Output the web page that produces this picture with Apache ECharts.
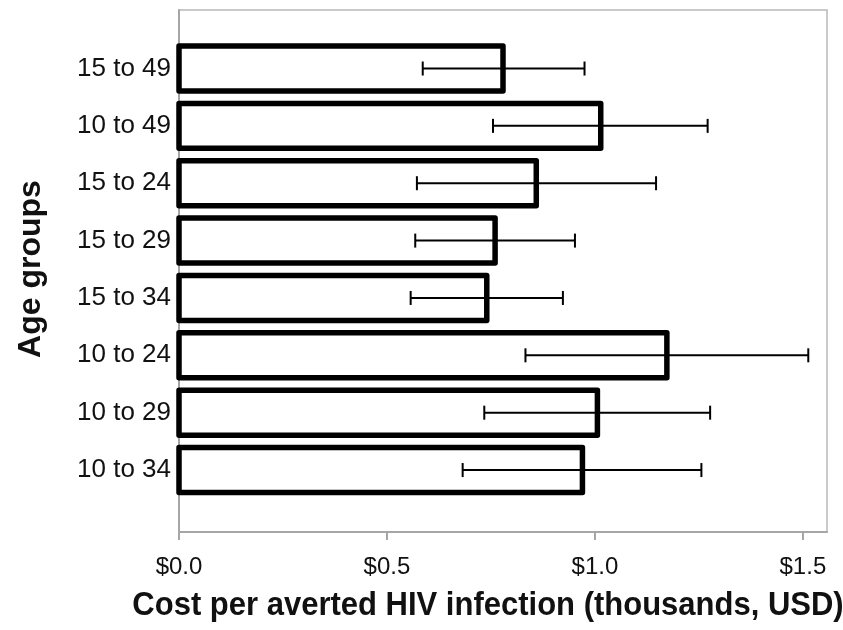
<!DOCTYPE html>
<html>
<head>
<meta charset="utf-8">
<script src="https://cdn.jsdelivr.net/npm/echarts@6/dist/echarts.min.js"></script>
<style>
html,body{margin:0;padding:0;background:#fff;}
#chart{width:843px;height:630px;}
</style>
</head>
<body>
<div id="chart"></div>
<script>
// ---- data ----
const categories = ['15 to 49','10 to 49','15 to 24','15 to 29','15 to 34','10 to 24','10 to 29','10 to 34'];
const costs   = [0.779, 1.014, 0.859, 0.760, 0.740, 1.173, 1.006, 0.970];
const lowerCI = [0.586, 0.755, 0.572, 0.568, 0.557, 0.833, 0.734, 0.682];
const upperCI = [0.975, 1.271, 1.147, 0.952, 0.923, 1.513, 1.277, 1.256];
const xTicks  = [0, 0.5, 1.0, 1.5];
const xTitle  = 'Cost per averted HIV infection (thousands, USD)';
const yTitle  = 'Age groups';

// ---- build series data ----
const positions = categories.map((c, i) => i + 1);
const barData = categories.map((c, i) => [costs[i], positions[i]]);
const errData = categories.map((c, i) => [lowerCI[i], upperCI[i], positions[i]]);

const FONT = 'Liberation Sans, Arial, sans-serif';
const GRAY = '#a6a6a6';

const chart = echarts.init(document.getElementById('chart'), null, {renderer: 'canvas'});
chart.setOption({
  animation: false,
  backgroundColor: '#fff',
  grid: {
    left: 179, right: 16, top: 10, bottom: 98,
    show: true, borderColor: '#b8b8b8', borderWidth: 1.5, backgroundColor: 'transparent'
  },
  xAxis: {
    type: 'value', min: 0, max: 1.558,
    axisLine: {show: true, onZero: false, lineStyle: {color: GRAY, width: 2}},
    axisTick: {show: true, length: 8, customValues: xTicks, lineStyle: {color: GRAY, width: 2}},
    axisLabel: {
      customValues: xTicks, margin: 23, fontSize: 24, color: '#111', fontFamily: FONT,
      formatter: v => '$' + Number(v).toFixed(1)
    },
    splitLine: {show: false}
  },
  yAxis: {
    type: 'value', inverse: true, min: -0.02, max: 9.08,
    axisLine: {show: true, onZero: false, lineStyle: {color: GRAY, width: 2}},
    axisTick: {show: false},
    axisLabel: {
      customValues: positions, margin: 8, fontSize: 26, color: '#111', fontFamily: FONT,
      formatter: v => categories[Math.round(v) - 1] || ''
    },
    splitLine: {show: false}
  },
  graphic: [
    {type: 'text', x: 488, y: 606, scaleY: 1.06,
     style: {text: xTitle, fontSize: 31, fontWeight: 'bold', fill: '#111', fontFamily: FONT,
             align: 'center', verticalAlign: 'middle'}},
    {type: 'text', x: 31, y: 269, rotation: Math.PI / 2,
     style: {text: yTitle, fontSize: 32, fontWeight: 'bold', fill: '#111', fontFamily: FONT,
             align: 'center', verticalAlign: 'middle'}}
  ],
  series: [
    {
      type: 'custom',
      data: barData,
      encode: {x: 0, y: 1},
      clip: false,
      renderItem: function (params, api) {
        const v = api.value(0), p = api.value(1);
        const s = api.coord([0, p]);
        const e = api.coord([v, p]);
        const h = api.size([0, 1])[1] * 0.784;
        return {
          type: 'rect',
          shape: {x: s[0], y: s[1] - h / 2, width: e[0] - s[0], height: h},
          style: {fill: '#fff', stroke: '#000', lineWidth: 5.5, lineJoin: 'round'}
        };
      }
    },
    {
      type: 'custom',
      data: errData,
      encode: {x: [0, 1], y: 2},
      clip: false,
      z: 5,
      renderItem: function (params, api) {
        const p = api.value(2);
        const a = api.coord([api.value(0), p]);
        const b = api.coord([api.value(1), p]);
        const cap = 7;
        const st = {stroke: '#000', lineWidth: 2};
        return {
          type: 'group',
          children: [
            {type: 'line', shape: {x1: a[0], y1: a[1], x2: b[0], y2: b[1]}, style: st},
            {type: 'line', shape: {x1: a[0], y1: a[1] - cap, x2: a[0], y2: a[1] + cap}, style: st},
            {type: 'line', shape: {x1: b[0], y1: b[1] - cap, x2: b[0], y2: b[1] + cap}, style: st}
          ]
        };
      }
    }
  ]
});
</script>
</body>
</html>
